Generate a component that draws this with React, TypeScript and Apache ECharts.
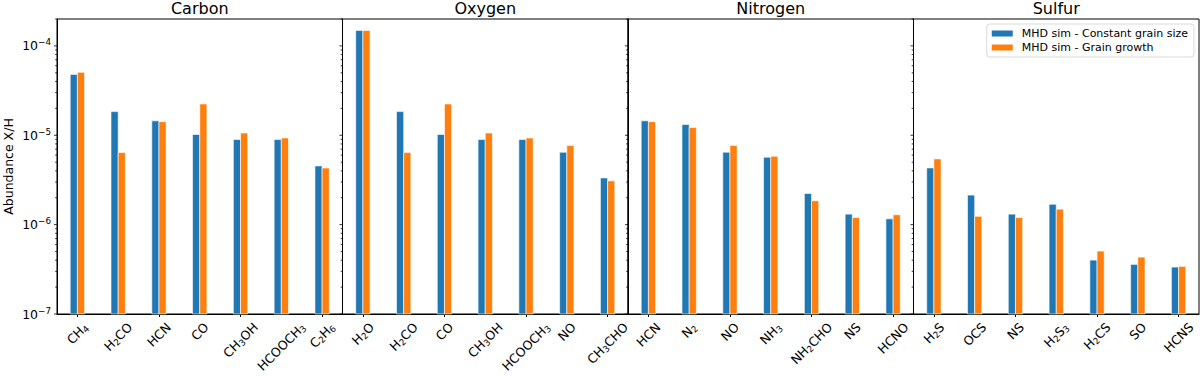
import React, { useEffect, useRef } from "react";
import * as echarts from "echarts";

const panelTitles = ["Carbon", "Oxygen", "Nitrogen", "Sulfur"];
const seriesNames = ["MHD sim - Constant grain size", "MHD sim - Grain growth"];
const seriesColors = ["#1f77b4", "#ff7f0e"];

const carbonLabels = ["CH4", "H2CO", "HCN", "CO", "CH3OH", "HCOOCH3", "C2H6"];
const carbonConst = [4.8e-5, 1.84e-5, 1.45e-5, 1.02e-5, 8.95e-6, 8.95e-6, 4.54e-6];
const carbonGrowth = [5.06e-5, 6.4e-6, 1.42e-5, 2.24e-5, 1.06e-5, 9.33e-6, 4.3e-6];

const oxygenLabels = ["H2O", "H2CO", "CO", "CH3OH", "HCOOCH3", "NO", "CH3CHO"];
const oxygenConst = [1.49e-4, 1.84e-5, 1.02e-5, 8.95e-6, 8.95e-6, 6.46e-6, 3.33e-6];
const oxygenGrowth = [1.49e-4, 6.4e-6, 2.24e-5, 1.06e-5, 9.33e-6, 7.67e-6, 3.09e-6];

const nitrogenLabels = ["HCN", "N2", "NO", "NH3", "NH2CHO", "NS", "HCNO"];
const nitrogenConst = [1.45e-5, 1.32e-5, 6.46e-6, 5.68e-6, 2.23e-6, 1.31e-6, 1.16e-6];
const nitrogenGrowth = [1.42e-5, 1.22e-5, 7.67e-6, 5.82e-6, 1.85e-6, 1.2e-6, 1.29e-6];

const sulfurLabels = ["H2S", "OCS", "NS", "H2S3", "H2CS", "SO", "HCNS"];
const sulfurConst = [4.31e-6, 2.14e-6, 1.31e-6, 1.69e-6, 4.01e-7, 3.59e-7, 3.35e-7];
const sulfurGrowth = [5.44e-6, 1.24e-6, 1.2e-6, 1.49e-6, 5.06e-7, 4.33e-7, 3.41e-7];

const yMin = 1e-7;
const yMax = 2e-4;
const majorTicks = [1e-7, 1e-6, 1e-5, 1e-4];
const minorMultipliers = [2, 3, 4, 5, 6, 7, 8, 9];

const panelLabels = [carbonLabels, oxygenLabels, nitrogenLabels, sulfurLabels];
const panelConst = [carbonConst, oxygenConst, nitrogenConst, sulfurConst];
const panelGrowth = [carbonGrowth, oxygenGrowth, nitrogenGrowth, sulfurGrowth];

const FONT = "DejaVu Sans";
const GRID_LEFT = 57;
const GRID_TOP = 19;
const GRID_H = 295;
const GRID_W = 285.5;
const XL_SIZE = 12.5;
const XL_SUB = 8.8;
const XL_H = 14;
const XL_PAD = 6;

function subLabel(name: string) {
  return name.replace(/(\d+)/g, "{sub|$1}");
}

let measureCtx: CanvasRenderingContext2D | null = null;
function labelWidth(name: string) {
  if (!measureCtx) measureCtx = document.createElement("canvas").getContext("2d");
  const ctx = measureCtx!;
  let w = 0;
  name.split(/(\d+)/).forEach((part) => {
    if (!part) return;
    const isNum = /^\d+$/.test(part);
    ctx.font = `${isNum ? XL_SUB : XL_SIZE}px "${FONT}"`;
    w += ctx.measureText(part).width;
  });
  return w;
}

function buildOption() {
  const grids: any[] = [];
  const xAxes: any[] = [];
  const yAxes: any[] = [];
  const series: any[] = [];
  const graphics: any[] = [];

  const tickData: any[] = [];
  majorTicks.forEach((v) => tickData.push([0, v, 3]));
  majorTicks.forEach((d) =>
    minorMultipliers.forEach((m) => {
      const v = m * d;
      if (v <= yMax * 1.0001) tickData.push([0, v, 1.8]);
    })
  );

  for (let p = 0; p < 4; p++) {
    const left = GRID_LEFT + p * GRID_W;
    grids.push({
      left,
      top: GRID_TOP,
      width: GRID_W,
      height: GRID_H,
      show: true,
      borderColor: "#000",
      borderWidth: 1,
      containLabel: false,
      outerBoundsMode: "none",
    });
    xAxes.push({
      type: "category",
      gridIndex: p,
      data: panelLabels[p],
      axisLine: { show: true, lineStyle: { color: "#000", width: 1 } },
      axisTick: { show: true, alignWithLabel: true, length: 3, lineStyle: { color: "#000" } },
      axisLabel: { show: false },
      splitLine: { show: false },
    });
    yAxes.push({
      type: "log",
      gridIndex: p,
      logBase: 10,
      min: yMin,
      max: yMax,
      name: p === 0 ? "Abundance X/H" : "",
      nameLocation: "middle",
      nameGap: 42,
      nameRotate: 90,
      nameTextStyle: { fontSize: 12.5, fontFamily: FONT, color: "#000" },
      axisLine: { show: true, lineStyle: { color: "#000", width: 1 } },
      axisTick: { show: false },
      splitLine: { show: false },
      minorTick: { show: false },
      axisLabel: {
        show: p === 0,
        showMaxLabel: false,
        margin: 6,
        fontSize: 12.5,
        fontFamily: FONT,
        color: "#000",
        formatter: (v: number) => {
          const e = Math.round(Math.log10(v));
          return "10{sup|" + (e < 0 ? "\u2212" : "") + Math.abs(e) + "}";
        },
        rich: {
          sup: { fontSize: 8.8, fontFamily: FONT, color: "#000", verticalAlign: "top", padding: [0, 0, 7, 0] },
        },
      },
    });

    [panelConst[p], panelGrowth[p]].forEach((vals, s) => {
      series.push({
        type: "custom",
        name: seriesNames[s],
        xAxisIndex: p,
        yAxisIndex: p,
        itemStyle: { color: seriesColors[s] },
        data: vals.map((v, i) => [i, v]),
        encode: { x: 0, y: 1 },
        clip: false,
        renderItem: (params: any, api: any) => {
          const idx = api.value(0);
          const v = api.value(1);
          const top = api.coord([idx, v]);
          const base = api.coord([idx, yMin]);
          const band = api.size([1, 0])[0];
          const w = band * 0.176;
          const x = top[0] + (s === 0 ? -w : 0);
          return {
            type: "rect",
            shape: { x, y: top[1], width: w, height: base[1] - top[1] },
            style: { fill: seriesColors[s], stroke: "rgba(255,255,255,0.75)", lineWidth: 0.8 },
          };
        },
      });
    });

    series.push({
      type: "custom",
      name: "yticks" + p,
      xAxisIndex: p,
      yAxisIndex: p,
      data: tickData,
      encode: { x: 0, y: 1 },
      clip: false,
      silent: true,
      renderItem: (params: any, api: any) => {
        const pt = api.coord([0, api.value(1)]);
        const x0 = params.coordSys.x;
        const len = api.value(2);
        return {
          type: "line",
          shape: { x1: x0 - len, y1: pt[1], x2: x0, y2: pt[1] },
          style: { stroke: "#000", lineWidth: 0.8 },
        };
      },
    });

    graphics.push({
      type: "text",
      id: "title" + p,
      x: left + GRID_W / 2,
      y: 0,
      style: {
        text: panelTitles[p],
        fontSize: 16,
        fontFamily: FONT,
        fill: "#000",
        textAlign: "center",
        textVerticalAlign: "top",
      },
    });
  }

  return {
    animation: false,
    backgroundColor: "#fff",
    textStyle: { fontFamily: FONT },
    grid: grids,
    xAxis: xAxes,
    yAxis: yAxes,
    series,
    graphic: { elements: graphics },
    legend: {
      data: seriesNames,
      orient: "vertical",
      right: 6,
      top: 24,
      padding: [4, 6, 4, 5],
      itemGap: 3,
      itemWidth: 21,
      itemHeight: 6,
      icon: "rect",
      backgroundColor: "rgba(255,255,255,0.8)",
      borderColor: "#d9d9d9",
      borderWidth: 1,
      borderRadius: 3,
      textStyle: { fontSize: 11, fontFamily: FONT, color: "#000", padding: [0, 0, 0, 4] },
    },
  };
}

function buildLabelGraphics(chart: any) {
  const els: any[] = [];
  for (let p = 0; p < 4; p++) {
    panelLabels[p].forEach((name, i) => {
      const px = chart.convertToPixel({ xAxisIndex: p }, i);
      const tx = Array.isArray(px) ? px[0] : px;
      const w = labelWidth(name);
      const axisY = GRID_TOP + GRID_H;
      const cy = axisY + XL_PAD + 0.3536 * (w + XL_H);
      els.push({
        type: "text",
        id: `xl_${p}_${i}`,
        x: tx,
        y: cy,
        rotation: Math.PI / 4,
        style: {
          text: subLabel(name),
          fontSize: XL_SIZE,
          fontFamily: FONT,
          fill: "#000",
          align: "center",
          verticalAlign: "middle",
          lineHeight: 15,
          rich: {
            sub: { fontSize: XL_SUB, fontFamily: FONT, fill: "#000", verticalAlign: "bottom", lineHeight: 15 },
          },
        },
      });
    });
  }
  return els;
}

export default function App() {
  const ref = useRef<HTMLDivElement>(null);
  useEffect(() => {
    if (!ref.current) return;
    const chart = echarts.init(ref.current, undefined, { renderer: "svg" });
    chart.setOption(buildOption() as any);
    chart.setOption({ graphic: { elements: buildLabelGraphics(chart) } } as any);
    return () => chart.dispose();
  }, []);
  return (
    <div
      ref={ref}
      style={{ position: "fixed", left: 0, top: 0, width: 1200, height: 376, background: "#fff" }}
    />
  );
}
